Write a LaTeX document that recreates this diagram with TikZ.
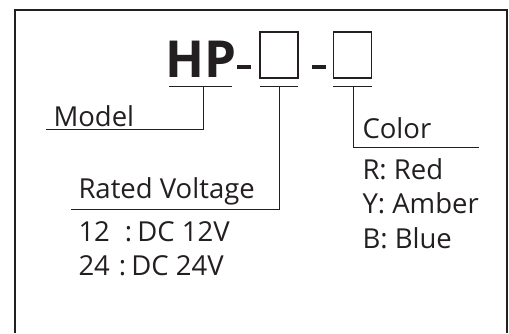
\documentclass[tikz,border=0pt]{standalone}
\usepackage{fontspec}
\setmainfont{Open Sans}
\usetikzlibrary{positioning}
\definecolor{ink}{RGB}{35,31,32}

\begin{document}
\begin{tikzpicture}[x=1pt,y=-1pt,line width=1pt,draw=ink,text=ink,
                    label text/.style={anchor=base west,inner sep=0pt,font=\fontsize{27.5}{32}\selectfont},
                    code box/.style={draw,line width=1.2pt,minimum width=38pt,minimum height=46pt,inner sep=0pt}]
 \useasboundingbox (0,0) rectangle (509,333);
 \draw[line width=2pt] (15,333) -- (15,10) -- (507,10) -- (507,333);

 \node[anchor=base west,inner sep=0pt,font=\fontsize{51}{60}\bfseries\selectfont] (hp) at (165,77) {HP};
 \node[code box] (box1) at (279,55) {};
 \node[code box] (box2) at (352.5,55) {};
 \fill[ink] (237,65) rectangle (251,69);
 \fill[ink] (312,65) rectangle (326,69);

 % underlines below the code
 \coordinate (hpa) at (169,86);
 \coordinate (hpb) at (232,86);
 \coordinate (v1a) at (260,86);
 \coordinate (v1b) at (298,86);
 \coordinate (c1a) at (333,86);
 \coordinate (c1b) at (372,86);
 \draw (hpa) -- (hpb);
 \draw (v1a) -- (v1b);
 \draw (c1a) -- (c1b);

 % model
 \coordinate (hpm) at (203,86);
 \coordinate (mend) at (46,129.5);
 \node[label text] (model) at (53,126) {Model};
 \draw (hpm) |- (mend);

 % rated voltage
 \coordinate (vm) at (279,86);
 \coordinate (vend) at (71,209.5);
 \node[label text] (volt) at (78,198) {Rated Voltage};
 \node[label text] (v12) at (78,241) {12\hspace{15pt}:\hspace{5pt}DC 12V};
 \node[label text] (v24) at (78,275) {24\hspace{9pt}:\hspace{5pt}DC 24V};
 \draw (vm) |- (vend);

 % color
 \coordinate (cm) at (353,86);
 \coordinate (cend) at (479,147.5);
 \node[label text] (color) at (362,138) {Color};
 \node[label text] (red) at (362,179) {R: Red};
 \node[label text] (amber) at (362,213) {Y: Amber};
 \node[label text] (blue) at (362,248) {B: Blue};
 \draw (cm) |- (cend);
\end{tikzpicture}
\end{document}
